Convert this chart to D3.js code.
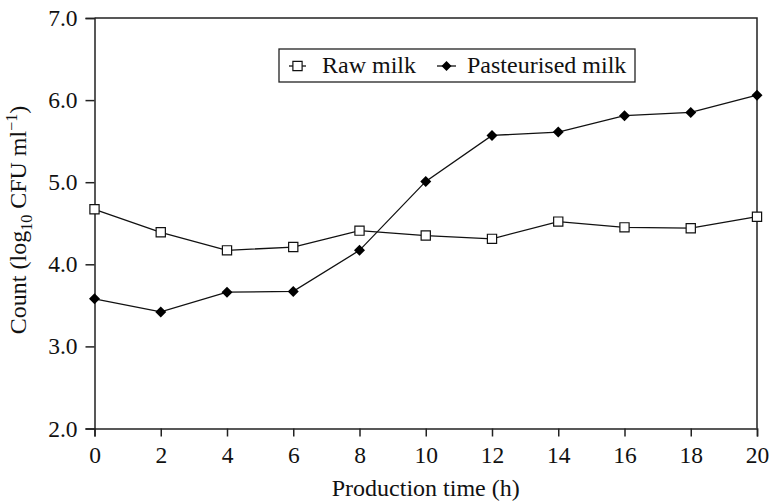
<!DOCTYPE html>
<html>
<head>
<meta charset="utf-8">
<script src="https://cdn.jsdelivr.net/npm/d3@7"></script>
<style>
  body { margin: 0; background: #fff; }
  svg text { font-family: "Liberation Serif", "Times New Roman", serif; fill: #111; }
</style>
</head>
<body>
<svg id="chart"></svg>
<script>
// data
var hours = [0, 2, 4, 6, 8, 10, 12, 14, 16, 18, 20]
var rawMilk = [4.67, 4.39, 4.17, 4.21, 4.41, 4.35, 4.31, 4.52, 4.45, 4.44, 4.58]
var pastMilk = [3.58, 3.42, 3.66, 3.67, 4.17, 5.01, 5.57, 5.61, 5.81, 5.85, 6.06]
var yTicks = [2, 3, 4, 5, 6, 7]

var width = 770, height = 503
var margin = {left: 94.5, right: 13, top: 18, bottom: 74.5}

var svg = d3.select("#chart")
    .attr("width", width)
    .attr("height", height)

var x = d3.scaleLinear().domain([0, 20]).range([margin.left, width - margin.right])
var y = d3.scaleLinear().domain([2, 7]).range([height - margin.bottom, margin.top])

// frame (top and right)
svg.append("path")
    .attr("d", "M" + x(0) + "," + y(7) + "H" + x(20) + "V" + y(2))
    .attr("fill", "none")
    .attr("stroke", "#222")
    .attr("stroke-width", 1.5)

var xAxis = svg.append("g")
    .attr("transform", "translate(0," + y(2) + ")")
    .call(d3.axisBottom(x).tickValues(hours).tickFormat(d3.format("d")).tickSizeOuter(0).tickSize(8).tickPadding(10))
var yAxis = svg.append("g")
    .attr("transform", "translate(" + x(0) + ",0)")
    .call(d3.axisLeft(y).tickValues(yTicks).tickFormat(d3.format(".1f")).tickSizeOuter(0).tickSize(9).tickPadding(8))

svg.selectAll(".domain, .tick line").attr("stroke", "#222").attr("stroke-width", 1.5)
svg.selectAll(".tick text").style("font-size", "23.5px").attr("fill", "#111")
    .style("font-family", "'Liberation Serif', 'Times New Roman', serif")

// axis titles
svg.append("text")
    .attr("x", (x(0) + x(20)) / 2)
    .attr("y", 496)
    .attr("text-anchor", "middle")
    .style("font-size", "24px")
    .text("Production time (h)")

var yt = svg.append("text")
    .attr("transform", "translate(26,220) rotate(-90)")
    .attr("text-anchor", "middle")
    .style("font-size", "24px")
yt.append("tspan").text("Count (log")
yt.append("tspan").attr("dy", 6).style("font-size", "16px").text("10")
yt.append("tspan").attr("dy", -6).text(" CFU ml")
yt.append("tspan").attr("dy", -9).style("font-size", "16px").text("\u22121")
yt.append("tspan").attr("dy", 9).text(")")

var line = d3.line()
    .x(function(d) { return x(d[0]) })
    .y(function(d) { return y(d[1]) })

var rawData = hours.map(function(h, i) { return [h, rawMilk[i]] })
var pastData = hours.map(function(h, i) { return [h, pastMilk[i]] })

svg.append("path").datum(rawData)
    .attr("d", line).attr("fill", "none").attr("stroke", "#111").attr("stroke-width", 1.3)
svg.append("path").datum(pastData)
    .attr("d", line).attr("fill", "none").attr("stroke", "#111").attr("stroke-width", 1.3)

var square = d3.symbol().type(d3.symbolSquare).size(85)
var diamond = function(s) {
  return "M0," + (-s) + "L" + s + ",0L0," + s + "L" + (-s) + ",0Z"
}

svg.selectAll(".raw").data(rawData).enter().append("path")
    .attr("class", "raw")
    .attr("d", square)
    .attr("transform", function(d) { return "translate(" + x(d[0]) + "," + y(d[1]) + ")" })
    .attr("fill", "#fff").attr("stroke", "#111").attr("stroke-width", 1.2)

svg.selectAll(".past").data(pastData).enter().append("path")
    .attr("class", "past")
    .attr("d", diamond(5.5))
    .attr("transform", function(d) { return "translate(" + x(d[0]) + "," + y(d[1]) + ")" })
    .attr("fill", "#000")

// legend
var lg = svg.append("g")
lg.append("rect")
    .attr("x", 279).attr("y", 49).attr("width", 356).attr("height", 33)
    .attr("fill", "#fff").attr("stroke", "#222").attr("stroke-width", 1.3)
lg.append("line").attr("x1", 289).attr("x2", 306).attr("y1", 66).attr("y2", 66).attr("stroke", "#111").attr("stroke-width", 1.3)
lg.append("path").attr("d", square).attr("transform", "translate(297.5,66)")
    .attr("fill", "#fff").attr("stroke", "#111").attr("stroke-width", 1.2)
lg.append("text").attr("x", 322).attr("y", 73).style("font-size", "24px").text("Raw milk")
lg.append("line").attr("x1", 437).attr("x2", 456).attr("y1", 66).attr("y2", 66).attr("stroke", "#111").attr("stroke-width", 1.3)
lg.append("path").attr("d", diamond(5)).attr("transform", "translate(446.5,66)").attr("fill", "#000")
lg.append("text").attr("x", 467).attr("y", 73).style("font-size", "24px").text("Pasteurised milk")
</script>
</body>
</html>
